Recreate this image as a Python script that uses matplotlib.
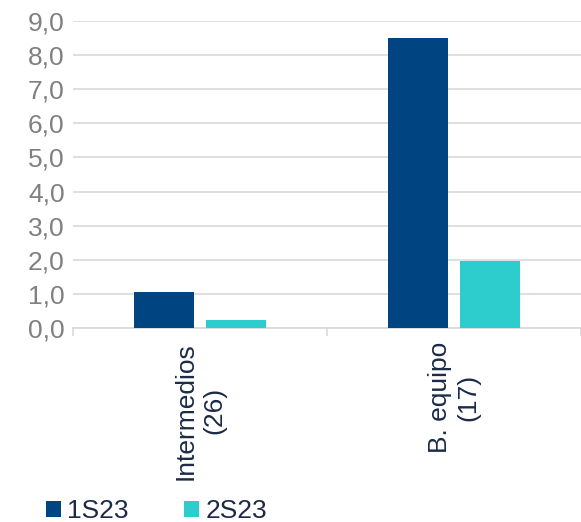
import matplotlib.pyplot as plt
from matplotlib.ticker import FuncFormatter, FixedLocator
import numpy as np

plt.rcParams["font.family"] = ["Liberation Sans", "DejaVu Sans"]

categories = ["Intermedios\n(26)", "B. equipo\n(17)"]
series_names = ["1S23", "2S23"]
values_1s23 = [1.05, 8.5]
values_2s23 = [0.23, 1.95]

NAVY = "#004481"
TEAL = "#2DCCCD"
TEXT = "#1B2A47"
GREY = "#808080"
GRID = "#D9D9D9"

fig = plt.figure(figsize=(5.81, 5.22), dpi=100)
ax = fig.add_axes([0.1256, 0.3716, 0.8744, 0.5882])

x = np.arange(len(categories))
w = 0.235
off = 0.1425
ax.bar(x - off, values_1s23, w, color=NAVY, label=series_names[0], zorder=3)
ax.bar(x + off, values_2s23, w, color=TEAL, label=series_names[1], zorder=3)

ax.set_xlim(-0.5, 1.5)
ax.set_ylim(0, 9)
ax.set_yticks(np.arange(0, 10, 1))
ax.yaxis.set_major_formatter(FuncFormatter(lambda v, p: f"{v:.1f}".replace(".", ",")))
ax.grid(axis="y", color=GRID, linewidth=1.2, zorder=0)

ax.set_xticks(x)
ax.set_xticklabels(categories, rotation=90, va="top", ha="center",
                   fontsize=19, color=TEXT, linespacing=1.2)
ax.xaxis.set_minor_locator(FixedLocator([-0.5, 0.5, 1.5]))
ax.tick_params(axis="x", which="major", length=0, pad=10)
ax.tick_params(axis="x", which="minor", length=6, color=GRID, width=1.2)
ax.tick_params(axis="y", length=0, labelsize=19, labelcolor=GREY, pad=6)

for s in ["top", "right", "left"]:
    ax.spines[s].set_visible(False)
ax.spines["bottom"].set_color(GRID)
ax.spines["bottom"].set_linewidth(1.2)

handles, labels = ax.get_legend_handles_labels()
fig.legend(handles, labels, loc="center left",
           bbox_to_anchor=(46 / 581, 1 - 511.5 / 522),
           ncol=2, frameon=False, fontsize=19, labelcolor=TEXT,
           borderpad=0, borderaxespad=0,
           handlelength=0.57, handleheight=0.57, handletextpad=0.23,
           columnspacing=2.1)

fig.savefig("out.png", dpi=100)
